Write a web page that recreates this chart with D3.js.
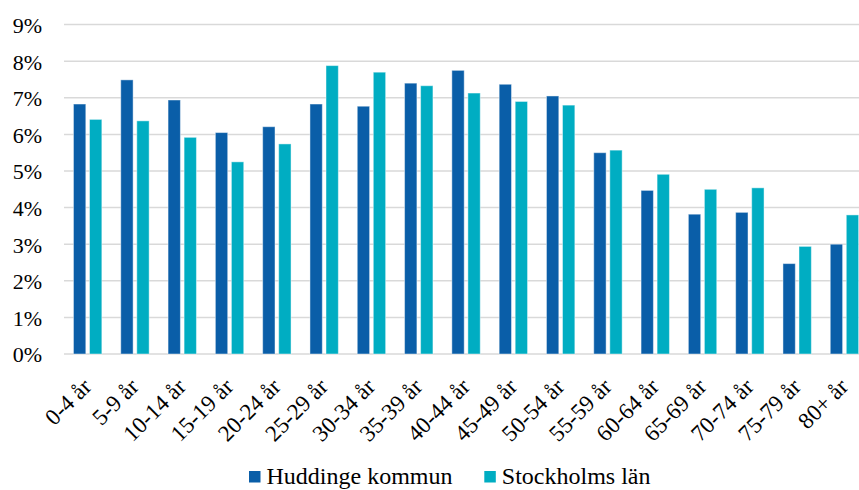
<!DOCTYPE html>
<meta charset="utf-8">
<style>
body { margin: 0; background: #fff; }
svg { display: block; font-family: "Liberation Serif", "Times New Roman", serif; }
.grid line { stroke: #d9d9d9; stroke-width: 1.5; }
.tick-label { font-size: 22px; fill: #000; }
.x-label { font-size: 23px; fill: #000; }
.legend text { font-size: 24px; fill: #000; }
</style>
<svg width="859" height="490"></svg>
<script src="https://d3js.org/d3.v7.min.js"></script>
<script>
var categories = ["0-4 år", "5-9 år", "10-14 år", "15-19 år", "20-24 år", "25-29 år",
  "30-34 år", "35-39 år", "40-44 år", "45-49 år", "50-54 år", "55-59 år",
  "60-64 år", "65-69 år", "70-74 år", "75-79 år", "80+ år"];
var seriesNames = ["Huddinge kommun", "Stockholms län"];
var huddinge = [6.83, 7.49, 6.94, 6.05, 6.21, 6.83, 6.77, 7.40, 7.75, 7.37, 7.05,
  5.50, 4.47, 3.82, 3.87, 2.47, 3.00];
var stockholm = [6.41, 6.37, 5.92, 5.25, 5.74, 7.88, 7.70, 7.33, 7.13, 6.90, 6.80,
  5.57, 4.91, 4.50, 4.54, 2.94, 3.80];
var yTicks = [0, 1, 2, 3, 4, 5, 6, 7, 8, 9];
var colors = ["#0a5ea8", "#00adc2"];

var svg = d3.select("svg");
var plotLeft = 64, plotTop = 24.6, plotBottom = 354, step = 47.3;

var x0 = d3.scaleBand().domain(categories).range([plotLeft, plotLeft + step * categories.length]);
var x1 = d3.scaleBand().domain(seriesNames).range([0, x0.bandwidth()])
  .paddingInner(0.23).paddingOuter(0.59);
var y = d3.scaleLinear().domain([0, 9]).range([plotBottom, plotTop]);

// grid lines
svg.append("g").attr("class", "grid")
  .selectAll("line").data(yTicks).enter().append("line")
  .attr("x1", plotLeft).attr("x2", 859)
  .attr("y1", function(d) { return y(d); })
  .attr("y2", function(d) { return y(d); });

// y labels
svg.append("g").selectAll("text").data(yTicks).enter().append("text")
  .attr("class", "tick-label")
  .attr("x", 42).attr("y", function(d) { return y(d); })
  .attr("dy", "0.38em")
  .attr("text-anchor", "end")
  .text(function(d) { return d + "%"; });

// bars
var rows = categories.map(function(c, i) {
  return { cat: c, vals: [huddinge[i], stockholm[i]] };
});

var groups = svg.append("g").selectAll("g").data(rows).enter().append("g")
  .attr("transform", function(d) { return "translate(" + x0(d.cat) + ",0)"; });

groups.selectAll("rect")
  .data(function(d) { return d.vals.map(function(v, j) { return { name: seriesNames[j], v: v, j: j }; }); })
  .enter().append("rect")
  .attr("x", function(d) { return x1(d.name); })
  .attr("width", x1.bandwidth())
  .attr("y", function(d) { return y(d.v); })
  .attr("height", function(d) { return plotBottom - y(d.v); })
  .attr("fill", function(d) { return colors[d.j]; })
  .attr("stroke", "rgba(255,255,255,0.45)")
  .attr("stroke-width", 1);

// x labels
svg.append("g").selectAll("text").data(categories).enter().append("text")
  .attr("class", "x-label")
  .attr("text-anchor", "end")
  .attr("transform", function(d) {
    var cx = x0(d) + x0.bandwidth() / 2;
    return "translate(" + (cx + 5) + ",388) rotate(-45)";
  })
  .text(function(d) { return d; });

// legend
var legendX = [249, 484.3];
var legend = svg.append("g").attr("class", "legend")
  .selectAll("g").data(seriesNames).enter().append("g")
  .attr("transform", function(d, i) { return "translate(" + legendX[i] + ",0)"; });
legend.append("rect")
  .attr("x", 0).attr("y", 471).attr("width", 11.5).attr("height", 11.5)
  .attr("fill", function(d, i) { return colors[i]; });
legend.append("text")
  .attr("x", 17.5).attr("y", 484)
  .text(function(d) { return d; });
</script>
